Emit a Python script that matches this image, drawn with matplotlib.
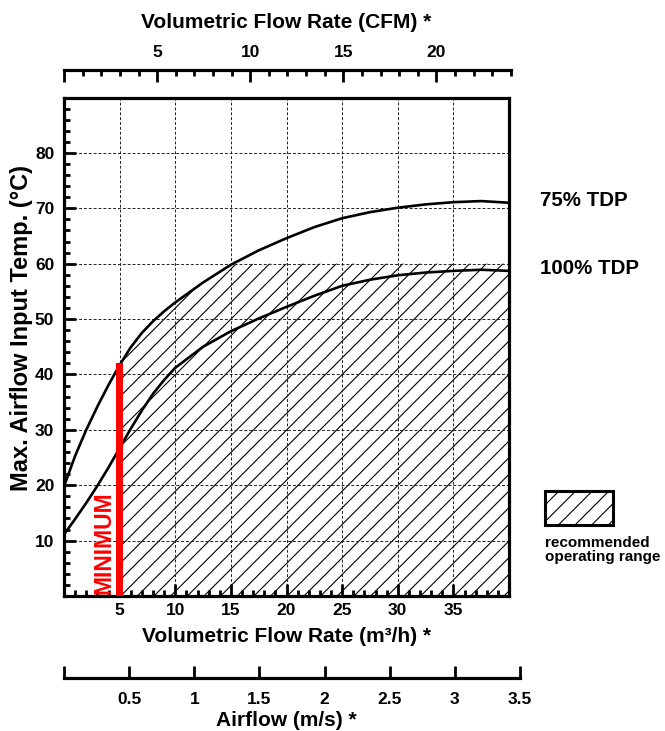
import numpy as np
import matplotlib
matplotlib.use('Agg')
import matplotlib.pyplot as plt
from matplotlib.patches import Rectangle
from matplotlib.ticker import MultipleLocator, FixedLocator

plt.rcParams['font.family'] = ['Liberation Sans', 'DejaVu Sans']
plt.rcParams['font.weight'] = 'bold'
plt.rcParams['hatch.linewidth'] = 0.8

# Valores (m3/h -> temperatura máxima en °C)
flujo = [0, 1, 2, 3, 4, 5, 6, 7, 8, 9, 10, 12.5, 15, 17.5, 20, 22.5, 25, 27.5, 30, 32.5, 35, 37.5, 40]
temp_75 = [19.8, 25.3, 30.0, 34.2, 38.1, 41.7, 44.9, 47.5, 49.6, 51.4, 53.0, 56.6, 59.8, 62.4, 64.6,
           66.6, 68.2, 69.3, 70.1, 70.7, 71.1, 71.3, 71.0]
temp_100 = [11.1, 13.9, 16.8, 19.9, 23.2, 26.7, 30.2, 33.5, 36.5, 39.0, 41.2, 45.0, 47.8, 50.1, 52.2,
            54.2, 56.0, 57.1, 57.9, 58.4, 58.7, 58.9, 58.7]
etiquetas_curvas = ['75% TDP', '100% TDP']

flujo_minimo = 5      # m3/h
temp_minimo = 42      # alto de la barra roja
temp_max_rec = 60     # techo de la zona recomendada

ticks_m3h = [5, 10, 15, 20, 25, 30, 35]
ticks_temp = [10, 20, 30, 40, 50, 60, 70, 80]
ticks_cfm = [0, 5, 10, 15, 20]
ticks_ms = [0, 0.5, 1, 1.5, 2, 2.5, 3, 3.5]
labels_ms = ['', '0.5', '1', '1.5', '2', '2.5', '3', '3.5']

W, H = 665, 731
fig = plt.figure(figsize=(W / 100, H / 100), dpi=100)

fuente_ticks = ['Liberation Sans Narrow', 'Liberation Sans', 'DejaVu Sans']
tam_ticks = 12.5

# Eje principal
ax = fig.add_axes([64 / W, 1 - 596 / H, 445 / W, (596 - 97.5) / H])
ax.set_xlim(0, 40)
ax.set_ylim(0, 90)

# Zona recomendada (rayada)
x = np.array(flujo)
y = np.minimum(np.array(temp_75), temp_max_rec)
m = x >= flujo_minimo
ax.fill_between(x[m], 0, y[m], facecolor='none', edgecolor='black', hatch='//', linewidth=0, zorder=1)

ax.plot(flujo, temp_75, color='black', lw=1.9, zorder=3)
ax.plot(flujo, temp_100, color='black', lw=1.9, zorder=3)

# Barra de mínimo
ax.bar(flujo_minimo, temp_minimo, width=0.6, color='#ff0000', align='center', zorder=4)
ax.text(3.6, 0.4, 'MINIMUM', color='#ff0000', rotation=90, fontsize=16.5, fontweight='bold',
        ha='center', va='bottom', zorder=5)

ax.xaxis.set_major_locator(FixedLocator(ticks_m3h))
ax.xaxis.set_minor_locator(MultipleLocator(1))
ax.yaxis.set_major_locator(FixedLocator(ticks_temp))
ax.yaxis.set_minor_locator(MultipleLocator(2))
ax.tick_params(which='both', direction='in', top=False, right=False, width=2, labelsize=tam_ticks)
ax.tick_params(which='major', length=8.5, pad=5)
ax.tick_params(which='minor', length=4.5)
ax.tick_params(axis='y', which='major', pad=7)
for lab in ax.get_xticklabels() + ax.get_yticklabels():
    lab.set_family(fuente_ticks)
ax.grid(which='major', linestyle=(0, (3, 2)), linewidth=0.7, color='#222222')
for s in ax.spines.values():
    s.set_linewidth(2.3)

# Eje superior CFM
axt = fig.add_axes([64 / W, 1 - 70 / H, 447 / W, 1e-4])
axt.set_xlim(0, 24)
for k in ['left', 'right', 'bottom']:
    axt.spines[k].set_visible(False)
axt.spines['top'].set_linewidth(2.3)
axt.set_yticks([])
axt.xaxis.tick_top()
axt.xaxis.set_major_locator(FixedLocator(ticks_cfm))
axt.set_xticklabels([''] + [str(t) for t in ticks_cfm[1:]], family=fuente_ticks)
axt.xaxis.set_minor_locator(MultipleLocator(1))
axt.tick_params(which='both', direction='in', width=2, labelsize=tam_ticks)
axt.tick_params(which='major', length=8.5, pad=7)
axt.tick_params(which='minor', length=4.5)

# Eje inferior m/s
axa = fig.add_axes([64 / W, 1 - 678 / H, 456 / W, 1e-4])
axa.set_xlim(0, 3.5)
for k in ['left', 'right', 'top']:
    axa.spines[k].set_visible(False)
axa.spines['bottom'].set_linewidth(2.3)
axa.set_yticks([])
axa.set_xticks(ticks_ms)
axa.set_xticklabels(labels_ms, family=fuente_ticks)
axa.tick_params(which='both', direction='in', width=2, length=9, pad=10, labelsize=tam_ticks)

# Títulos
cx = (64 + 509) / 2 / W
fig.text(cx, 1 - 22 / H, 'Volumetric Flow Rate (CFM) *', ha='center', va='center', fontsize=15, fontweight='bold')
fig.text(cx, 1 - 637 / H, 'Volumetric Flow Rate (m³/h) *', ha='center', va='center', fontsize=15, fontweight='bold')
fig.text(cx, 1 - 720 / H, 'Airflow (m/s) *', ha='center', va='center', fontsize=15, fontweight='bold')
fig.text(22 / W, 1 - 328 / H, 'Max. Airflow Input Temp. (°C)', rotation=90, ha='center', va='center',
         fontsize=17, fontweight='bold')

# Etiquetas de curvas
fig.text(540 / W, 1 - 201 / H, etiquetas_curvas[0], ha='left', va='center', fontsize=14.8, fontweight='bold')
fig.text(540 / W, 1 - 268 / H, etiquetas_curvas[1], ha='left', va='center', fontsize=14.8, fontweight='bold')

# Leyenda de la zona recomendada
fig.add_artist(Rectangle((545 / W, 1 - 525 / H), 68 / W, 34 / H, transform=fig.transFigure,
                         facecolor='none', edgecolor='black', linewidth=2.2, hatch='//'))
fig.text(545 / W, 1 - 543 / H, 'recommended', ha='left', va='center', fontsize=11, fontweight='bold')
fig.text(545 / W, 1 - 557 / H, 'operating range', ha='left', va='center', fontsize=11, fontweight='bold')

fig.savefig('out.png', dpi=100)
